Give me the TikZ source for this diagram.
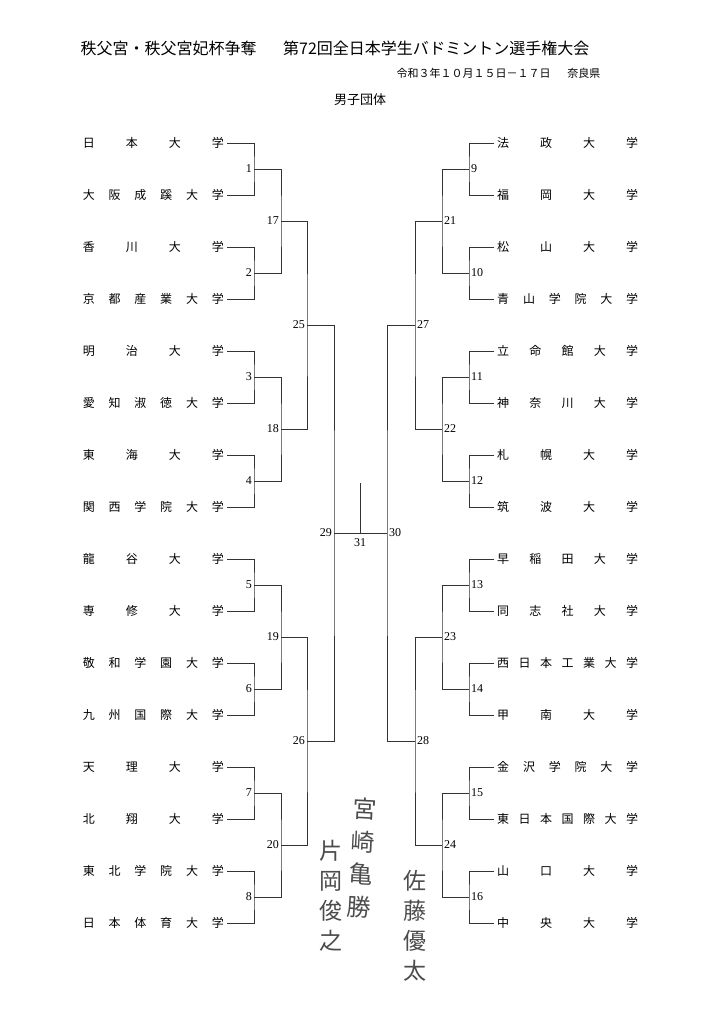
\documentclass[tikz,border=0pt]{standalone}
\usepackage{fontspec}
\setmainfont{Liberation Serif}
\newfontfamily\jp{Noto Sans CJK JP}
\usetikzlibrary{positioning}

% spread the characters of a name over a fixed width
\def\spr#1#2\relax{#1\if\relax\detokenize{#2}\relax\else\hfill\spr#2\relax\fi}
\newcommand\school[1]{\makebox[141pt][s]{\spr#1\relax}}

\tikzset{
  team/.style={font=\jp\fontsize{12}{12}\selectfont, inner xsep=3pt, inner ysep=0pt},
  num/.style={font=\fontsize{12}{12}\selectfont, inner sep=2pt},
  ln/.style={line width=0.8pt, black!80},
  hand/.style={font=\jp\fontsize{24}{33}\selectfont, align=center, black!70}
}

\begin{document}
\begin{tikzpicture}[x=1pt,y=-1pt]
\useasboundingbox (0,0) rectangle (722,1024);

% header
\node [font=\jp\fontsize{16}{16}\selectfont, anchor=west] (title1) at (77,48) {秩父宮・秩父宮妃杯争奪};
\node [font=\jp\fontsize{16}{16}\selectfont, anchor=east] (title2) at (593,48) {第72回全日本学生バドミントン選手権大会};
\node [font=\jp\fontsize{11}{11}\selectfont, anchor=west] (date) at (393,73) {令和３年１０月１５日－１７日};
\node [font=\jp\fontsize{11}{11}\selectfont, anchor=east] (place) at (604,73) {奈良県};
\node [font=\jp\fontsize{13}{13}\selectfont] (event) at (360,100) {男子団体};

% left teams
\node [team, anchor=east] (l1) at (227,143) {\school{日本大学}};
\node [team, anchor=east] (l2) at (227,195) {\school{大阪成蹊大学}};
\node [team, anchor=east] (l3) at (227,247) {\school{香川大学}};
\node [team, anchor=east] (l4) at (227,299) {\school{京都産業大学}};
\node [team, anchor=east] (l5) at (227,351) {\school{明治大学}};
\node [team, anchor=east] (l6) at (227,403) {\school{愛知淑徳大学}};
\node [team, anchor=east] (l7) at (227,455) {\school{東海大学}};
\node [team, anchor=east] (l8) at (227,507) {\school{関西学院大学}};
\node [team, anchor=east] (l9) at (227,559) {\school{龍谷大学}};
\node [team, anchor=east] (l10) at (227,611) {\school{専修大学}};
\node [team, anchor=east] (l11) at (227,663) {\school{敬和学園大学}};
\node [team, anchor=east] (l12) at (227,715) {\school{九州国際大学}};
\node [team, anchor=east] (l13) at (227,767) {\school{天理大学}};
\node [team, anchor=east] (l14) at (227,819) {\school{北翔大学}};
\node [team, anchor=east] (l15) at (227,871) {\school{東北学院大学}};
\node [team, anchor=east] (l16) at (227,923) {\school{日本体育大学}};

% right teams
\node [team, anchor=west] (r1) at (494,143) {\school{法政大学}};
\node [team, anchor=west] (r2) at (494,195) {\school{福岡大学}};
\node [team, anchor=west] (r3) at (494,247) {\school{松山大学}};
\node [team, anchor=west] (r4) at (494,299) {\school{青山学院大学}};
\node [team, anchor=west] (r5) at (494,351) {\school{立命館大学}};
\node [team, anchor=west] (r6) at (494,403) {\school{神奈川大学}};
\node [team, anchor=west] (r7) at (494,455) {\school{札幌大学}};
\node [team, anchor=west] (r8) at (494,507) {\school{筑波大学}};
\node [team, anchor=west] (r9) at (494,559) {\school{早稲田大学}};
\node [team, anchor=west] (r10) at (494,611) {\school{同志社大学}};
\node [team, anchor=west] (r11) at (494,663) {\school{西日本工業大学}};
\node [team, anchor=west] (r12) at (494,715) {\school{甲南大学}};
\node [team, anchor=west] (r13) at (494,767) {\school{金沢学院大学}};
\node [team, anchor=west] (r14) at (494,819) {\school{東日本国際大学}};
\node [team, anchor=west] (r15) at (494,871) {\school{山口大学}};
\node [team, anchor=west] (r16) at (494,923) {\school{中央大学}};

% match points
\coordinate (m1) at (254,169); \coordinate (m2) at (254,273);
\coordinate (m3) at (254,377); \coordinate (m4) at (254,481);
\coordinate (m5) at (254,585); \coordinate (m6) at (254,689);
\coordinate (m7) at (254,793); \coordinate (m8) at (254,897);
\coordinate (m9) at (469,169); \coordinate (m10) at (469,273);
\coordinate (m11) at (469,377); \coordinate (m12) at (469,481);
\coordinate (m13) at (469,585); \coordinate (m14) at (469,689);
\coordinate (m15) at (469,793); \coordinate (m16) at (469,897);
\coordinate (m17) at (281,221); \coordinate (m18) at (281,429);
\coordinate (m19) at (281,637); \coordinate (m20) at (281,845);
\coordinate (m21) at (442,221); \coordinate (m22) at (442,429);
\coordinate (m23) at (442,637); \coordinate (m24) at (442,845);
\coordinate (m25) at (307,325); \coordinate (m26) at (307,741);
\coordinate (m27) at (415,325); \coordinate (m28) at (415,741);
\coordinate (m29) at (334,533); \coordinate (m30) at (387,533);
\coordinate (m31) at (360,533); \coordinate (top) at (360,483);

% left bracket
\draw [ln] (l1.east) -| (m1) |- (l2.east);
\draw [ln] (l3.east) -| (m2) |- (l4.east);
\draw [ln] (l5.east) -| (m3) |- (l6.east);
\draw [ln] (l7.east) -| (m4) |- (l8.east);
\draw [ln] (l9.east) -| (m5) |- (l10.east);
\draw [ln] (l11.east) -| (m6) |- (l12.east);
\draw [ln] (l13.east) -| (m7) |- (l14.east);
\draw [ln] (l15.east) -| (m8) |- (l16.east);
\draw [ln] (m1) -| (m17) |- (m2);
\draw [ln] (m3) -| (m18) |- (m4);
\draw [ln] (m5) -| (m19) |- (m6);
\draw [ln] (m7) -| (m20) |- (m8);
\draw [ln] (m17) -| (m25) |- (m18);
\draw [ln] (m19) -| (m26) |- (m20);
\draw [ln] (m25) -| (m29) |- (m26);

% right bracket
\draw [ln] (r1.west) -| (m9) |- (r2.west);
\draw [ln] (r3.west) -| (m10) |- (r4.west);
\draw [ln] (r5.west) -| (m11) |- (r6.west);
\draw [ln] (r7.west) -| (m12) |- (r8.west);
\draw [ln] (r9.west) -| (m13) |- (r10.west);
\draw [ln] (r11.west) -| (m14) |- (r12.west);
\draw [ln] (r13.west) -| (m15) |- (r14.west);
\draw [ln] (r15.west) -| (m16) |- (r16.west);
\draw [ln] (m9) -| (m21) |- (m10);
\draw [ln] (m11) -| (m22) |- (m12);
\draw [ln] (m13) -| (m23) |- (m14);
\draw [ln] (m15) -| (m24) |- (m16);
\draw [ln] (m21) -| (m27) |- (m22);
\draw [ln] (m23) -| (m28) |- (m24);
\draw [ln] (m27) -| (m30) |- (m28);

% final
\draw [ln] (m29) -- (m30);
\draw [ln] (m31) -- (top);

% match numbers
\node [num, left] (n1) at (m1) {1};
\node [num, left] (n2) at (m2) {2};
\node [num, left] (n3) at (m3) {3};
\node [num, left] (n4) at (m4) {4};
\node [num, left] (n5) at (m5) {5};
\node [num, left] (n6) at (m6) {6};
\node [num, left] (n7) at (m7) {7};
\node [num, left] (n8) at (m8) {8};
\node [num, right] (n9) at (m9) {9};
\node [num, right] (n10) at (m10) {10};
\node [num, right] (n11) at (m11) {11};
\node [num, right] (n12) at (m12) {12};
\node [num, right] (n13) at (m13) {13};
\node [num, right] (n14) at (m14) {14};
\node [num, right] (n15) at (m15) {15};
\node [num, right] (n16) at (m16) {16};
\node [num, left] (n17) at (m17) {17};
\node [num, left] (n18) at (m18) {18};
\node [num, left] (n19) at (m19) {19};
\node [num, left] (n20) at (m20) {20};
\node [num, right] (n21) at (m21) {21};
\node [num, right] (n22) at (m22) {22};
\node [num, right] (n23) at (m23) {23};
\node [num, right] (n24) at (m24) {24};
\node [num, left] (n25) at (m25) {25};
\node [num, left] (n26) at (m26) {26};
\node [num, right] (n27) at (m27) {27};
\node [num, right] (n28) at (m28) {28};
\node [num, left] (n29) at (m29) {29};
\node [num, right] (n30) at (m30) {30};
\node [num, below=3pt] (n31) at (m31) {31};

% handwritten names
\node [hand, rotate=-3] (sign1) at (362,858) {宮\\崎\\亀\\勝};
\node [hand, font=\jp\fontsize{23}{30}\selectfont] (sign2) at (331,896) {片\\岡\\俊\\之};
\node [hand, font=\jp\fontsize{23}{30}\selectfont] (sign3) at (415,926) {佐\\藤\\優\\太};
\end{tikzpicture}
\end{document}
